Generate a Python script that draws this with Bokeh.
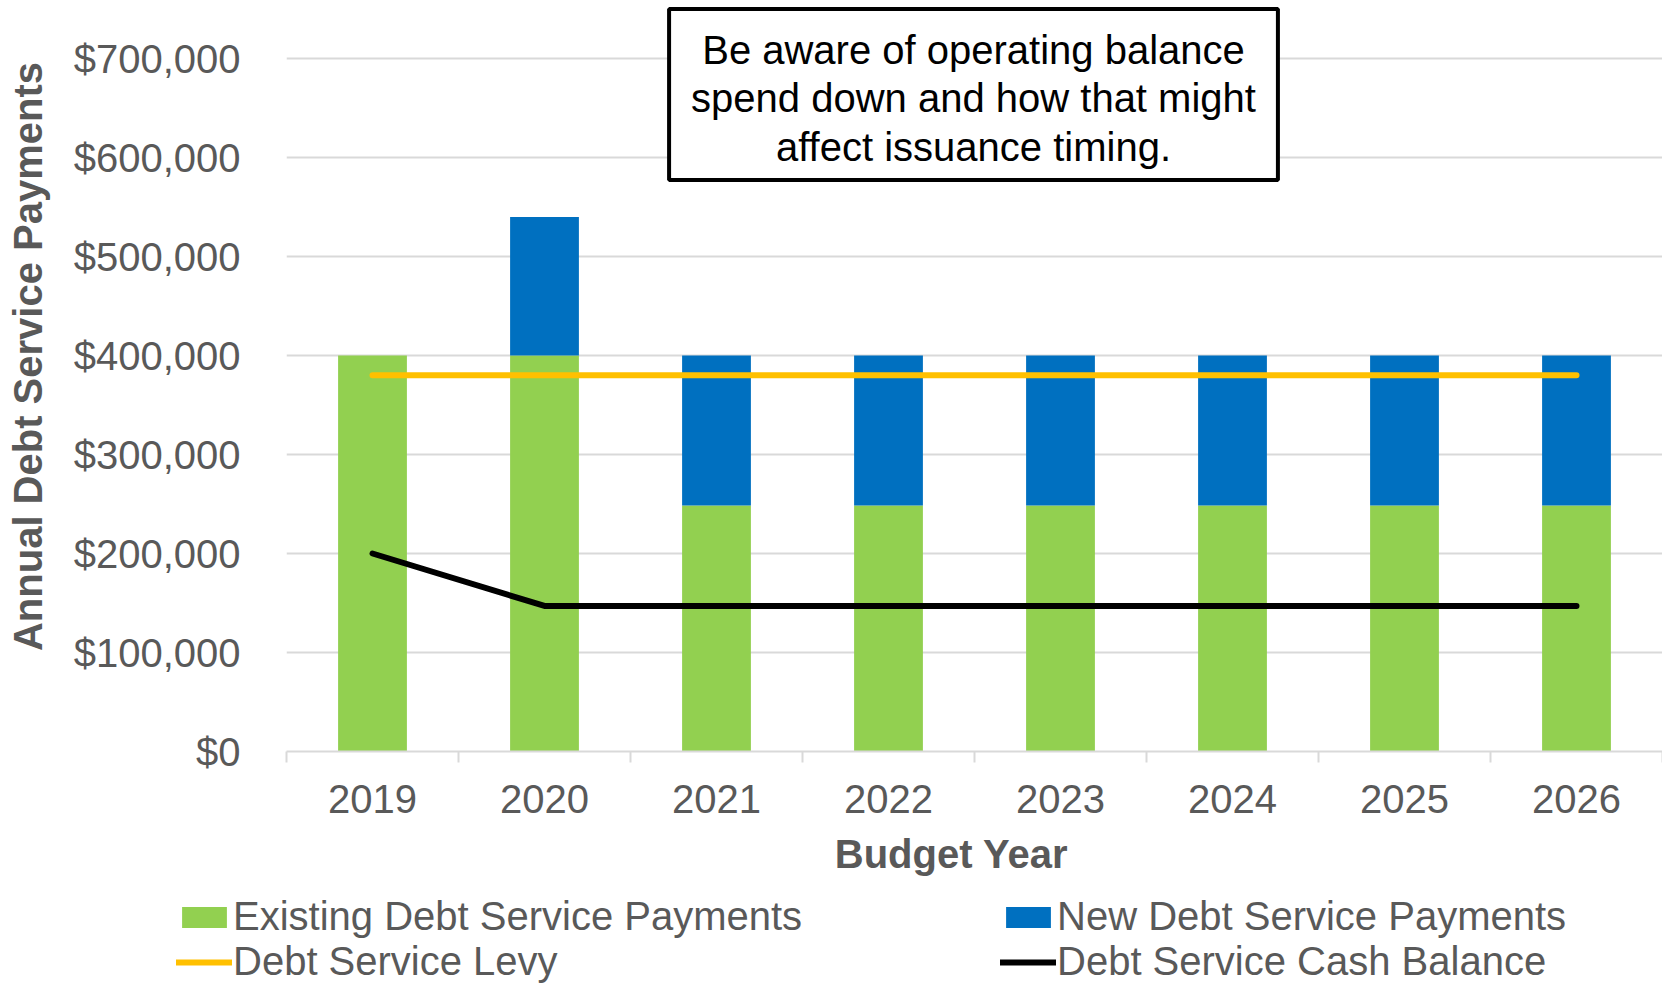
import math
from bokeh.plotting import figure
from bokeh.layouts import column, row
from bokeh.models import (Range1d, FixedTicker, NumeralTickFormatter, CustomJSTickFormatter,
                          Label, Legend, LegendItem, ColumnDataSource)
from bokeh.embed import file_html
from bokeh.resources import INLINE

# ---------------- data ----------------
years = ["2019", "2020", "2021", "2022", "2023", "2024", "2025", "2026"]
existing_payments = [400000, 400000, 248500, 248500, 248500, 248500, 248500, 248500]
new_payments = [0, 140000, 151500, 151500, 151500, 151500, 151500, 151500]
debt_service_levy = [380000, 380000, 380000, 380000, 380000, 380000, 380000, 380000]
cash_balance = [200000, 147000, 147000, 147000, 147000, 147000, 147000, 147000]
y_ticks = [0, 100000, 200000, 300000, 400000, 500000, 600000, 700000]

series_names = ["Existing Debt Service Payments", "New Debt Service Payments",
                "Debt Service Levy", "Debt Service Cash Balance"]
note_text = "Be aware of operating balance\nspend down and how that might\naffect issuance timing."
x_title = "Budget Year"
y_title = "Annual Debt Service Payments"

# ---------------- style ----------------
GREEN = "#92d050"
BLUE = "#0070c0"
YELLOW = "#ffc000"
BLACK = "#000000"
GRAY_TEXT = "#595959"
GRID = "#d9d9d9"
FONT = "Liberation Sans"

TOTAL_W, TOTAL_H = 1662, 984
TITLE_W = 56
MAIN_H = 830
FRAME_BOTTOM = 751


def blank_figure(w, h, lo=0, hi=1):
    f = figure(width=w, height=h, x_range=Range1d(lo, hi), y_range=Range1d(lo, hi),
               output_backend="svg", toolbar_location=None,
               x_axis_location=None, y_axis_location=None,
               min_border_left=0, min_border_right=0, min_border_top=0, min_border_bottom=0)
    f.outline_line_color = None
    f.xgrid.visible = False
    f.ygrid.visible = False
    return f


n = len(years)
slot_centers = [i + 0.5 for i in range(n)]      # one slot per budget year
slot_bounds = [i for i in range(n + 1)]

src = ColumnDataSource(dict(x=slot_centers, year=years, existing=existing_payments,
                            new=new_payments, levy=debt_service_levy, cash=cash_balance))

# ---------------- main chart ----------------
p = figure(x_range=Range1d(0, n), y_range=Range1d(0, 758600),
           width=TOTAL_W - TITLE_W, height=MAIN_H,
           output_backend="svg", toolbar_location=None,
           min_border_left=286 - TITLE_W, min_border_right=0,
           min_border_top=0, min_border_bottom=MAIN_H - FRAME_BOTTOM)
p.outline_line_color = None
p.background_fill_color = "white"
p.border_fill_color = "white"

bars = p.vbar_stack(["existing", "new"], x="x", width=0.4, source=src,
                    fill_color=[GREEN, BLUE], line_color=None)
levy_r = p.line(x="x", y="levy", source=src, line_color=YELLOW, line_width=6,
                line_cap="round")
cash_r = p.line(x="x", y="cash", source=src, line_color=BLACK, line_width=6,
                line_cap="round", line_join="round")

yax = p.yaxis[0]
yax.ticker = FixedTicker(ticks=y_ticks)
yax.formatter = NumeralTickFormatter(format="$0,0")
yax.axis_line_color = None
yax.major_tick_line_color = None
yax.minor_tick_line_color = None
yax.major_tick_out = 0
yax.major_tick_in = 0
yax.minor_tick_out = 0
yax.major_label_standoff = 46
yax.major_label_text_font = FONT
yax.major_label_text_font_size = "40px"
yax.major_label_text_color = GRAY_TEXT

p.xgrid.grid_line_color = None
p.ygrid.ticker = FixedTicker(ticks=y_ticks)
p.ygrid.grid_line_color = GRID
p.ygrid.grid_line_width = 2

xax = p.xaxis[0]
xax.ticker = FixedTicker(ticks=slot_centers, minor_ticks=slot_bounds)
xax.formatter = CustomJSTickFormatter(
    args=dict(years=years),
    code="const i = Math.floor(tick); return (i >= 0 && i < years.length) ? years[i] : '';")
xax.axis_line_color = GRID
xax.axis_line_width = 2
xax.major_tick_line_color = None
xax.major_tick_out = 0
xax.major_tick_in = 0
xax.minor_tick_line_color = GRID
xax.minor_tick_line_width = 2
xax.minor_tick_out = 11
xax.minor_tick_in = 0
xax.major_label_standoff = 22
xax.major_label_text_font = FONT
xax.major_label_text_font_size = "40px"
xax.major_label_text_color = GRAY_TEXT

p.add_layout(Label(x=687, y=657, x_units="screen", y_units="screen", text=note_text,
                   text_align="center", text_baseline="middle",
                   text_font=FONT, text_font_size="40px", text_color=BLACK,
                   text_line_height=1.1,
                   border_line_color=BLACK, border_line_width=4,
                   background_fill_color="white",
                   padding=dict(left=22, right=22, top=19, bottom=11)))

# ---------------- y-axis title strip (its frame is aligned with the chart frame) ----------------
p_ylab = blank_figure(TITLE_W, MAIN_H)
p_ylab.min_border_bottom = MAIN_H - FRAME_BOTTOM
p_ylab.add_layout(Label(x=27, y=FRAME_BOTTOM - 356, x_units="screen", y_units="screen",
                        text=y_title, angle=math.pi / 2,
                        text_align="center", text_baseline="middle",
                        text_font=FONT, text_font_size="40px", text_font_style="bold",
                        text_color=GRAY_TEXT))

# ---------------- x-axis title + legend strip ----------------
BOT_H = TOTAL_H - MAIN_H
# ranges lie far from all data, so the key renderers draw nothing inside the strip
p_bot = blank_figure(TOTAL_W, BOT_H, lo=-1e7, hi=-1e7 + 1)
p_bot.add_layout(Label(x=951, y=BOT_H - (853 - MAIN_H), x_units="screen", y_units="screen",
                       text=x_title, text_align="center", text_baseline="middle",
                       text_font=FONT, text_font_size="40px", text_font_style="bold",
                       text_color=GRAY_TEXT))

k_exist = p_bot.vbar(x="x", top="existing", width=0.4, source=src,
                     fill_color=GREEN, line_color=None)
k_new = p_bot.vbar(x="x", top="new", width=0.4, source=src,
                   fill_color=BLUE, line_color=None)
k_levy = p_bot.line(x="x", y="levy", source=src, line_color=YELLOW, line_width=6,
                    line_cap="round")
k_cash = p_bot.line(x="x", y="cash", source=src, line_color=BLACK, line_width=6,
                    line_cap="round")

legend = Legend(items=[LegendItem(label=series_names[0], renderers=[k_exist]),
                       LegendItem(label=series_names[1], renderers=[k_new]),
                       LegendItem(label=series_names[2], renderers=[k_levy]),
                       LegendItem(label=series_names[3], renderers=[k_cash])],
                location=(176, 0), orientation="horizontal", ncols=2,
                glyph_width=56, glyph_height=26, label_standoff=1, label_width=767,
                spacing=-2, padding=0, margin=0,
                border_line_color=None, background_fill_alpha=0,
                label_text_font=FONT, label_text_font_size="40px",
                label_text_color=GRAY_TEXT)
p_bot.add_layout(legend)

layout = column(row(p_ylab, p), p_bot)

open("out.html", "w").write(file_html(layout, INLINE))
